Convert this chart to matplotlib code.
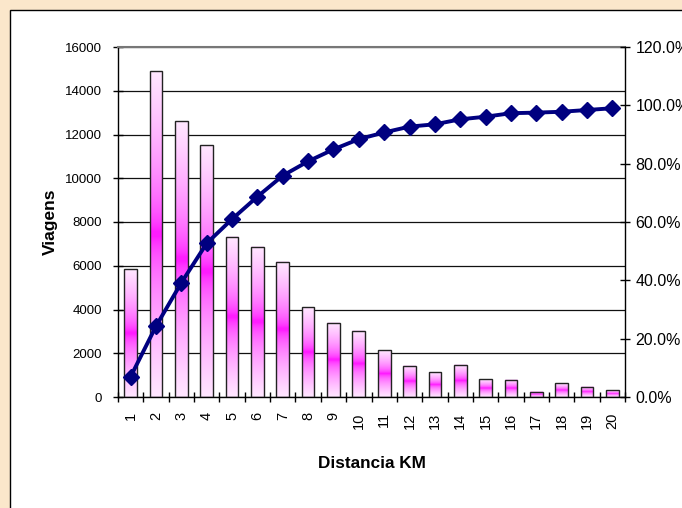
import numpy as np
import matplotlib.pyplot as plt
from matplotlib.patches import Rectangle
from matplotlib.colors import to_rgb

plt.rcParams['font.family'] = ['Liberation Sans', 'DejaVu Sans']

# trips per distance band (km) and cumulative share
distancia = list(range(1, 21))
viagens = [5840, 14900, 12600, 11500, 7330, 6860, 6190, 4100, 3400, 3030,
           2130, 1420, 1130, 1480, 820, 780, 230, 640, 470, 320]
acumulado = [7.0, 24.3, 39.2, 52.7, 61.0, 68.7, 75.9, 80.8, 84.9, 88.4,
             90.7, 92.7, 93.5, 95.2, 96.1, 97.3, 97.5, 97.8, 98.4, 99.0]

W, H = 682, 508
fig = plt.figure(figsize=(W / 100, H / 100), dpi=100)
fig.patch.set_facecolor('#fbe7cb')

# white chart area with a black frame
fig.patches.append(Rectangle((10 / W, -0.1), 1.2, 1.1 - 10 / H,
                             transform=fig.transFigure, facecolor='white',
                             edgecolor='black', linewidth=1.0, zorder=-5))

ax = fig.add_axes([118 / W, 1 - 397 / H, (625 - 118) / W, (397 - 47) / H])
ax.set_facecolor('white')

# vertical gradient: pale pink at the ends, magenta in the middle
light = np.array(to_rgb('#ffe6ff'))
mag = np.array(to_rgb('#ff00ff'))
t = np.abs(np.linspace(-1, 1, 64)) ** 0.5
grad = mag[None, :] + (light - mag)[None, :] * t[:, None]
grad = grad[:, None, :]

bw = 0.5
for x, v in zip(distancia, viagens):
    ax.imshow(grad, extent=[x - bw / 2, x + bw / 2, 0, v], aspect='auto',
              interpolation='bilinear', zorder=2)
ax.bar(distancia, viagens, width=bw, facecolor='none', edgecolor='#222222',
       linewidth=1.0, zorder=3)

ax.set_xlim(0.5, 20.5)
ax.set_ylim(0, 16000)
ax.set_yticks(range(0, 16001, 2000))
ax.yaxis.grid(True, color='#111111', linewidth=0.9)
ax.set_axisbelow(True)

ax.set_xticks(np.arange(0.5, 21, 1))
ax.set_xticklabels([])
ax.set_xticks(distancia, minor=True)
ax.set_xticklabels([str(d) for d in distancia], minor=True, rotation=90,
                   fontsize=10.5)
ax.tick_params(axis='x', which='major', direction='inout', length=7, width=1)
ax.tick_params(axis='x', which='minor', length=0, pad=11)
ax.tick_params(axis='y', direction='inout', length=7, width=1, labelsize=9.5,
               pad=8)

for s in ['left', 'bottom']:
    ax.spines[s].set_color('black')
    ax.spines[s].set_linewidth(1.0)
ax.spines['top'].set_color('#777777')
ax.spines['top'].set_linewidth(1.5)
ax.spines['right'].set_visible(False)

ax.set_ylabel('Viagens', fontsize=12.5, fontweight='bold', labelpad=5)
ax.set_xlabel('Distancia KM', fontsize=12.3, fontweight='bold', labelpad=20)

ax2 = ax.twinx()
ax2.plot(distancia, [a / 100 for a in acumulado], color='#000080',
         linewidth=2.8, marker='D', markersize=8.5, zorder=5)
ax2.set_ylim(0, 1.2)
ax2.set_yticks(np.arange(0, 1.21, 0.2))
ax2.set_yticklabels([f'{v * 100:.1f}%' for v in np.arange(0, 1.21, 0.2)],
                    fontsize=11.5)
ax2.tick_params(axis='y', direction='inout', length=7, width=1, pad=4)
ax2.spines['right'].set_color('black')
ax2.spines['right'].set_linewidth(1.0)
for s in ['left', 'top', 'bottom']:
    ax2.spines[s].set_visible(False)

fig.savefig('out.png', dpi=100, facecolor=fig.get_facecolor())
